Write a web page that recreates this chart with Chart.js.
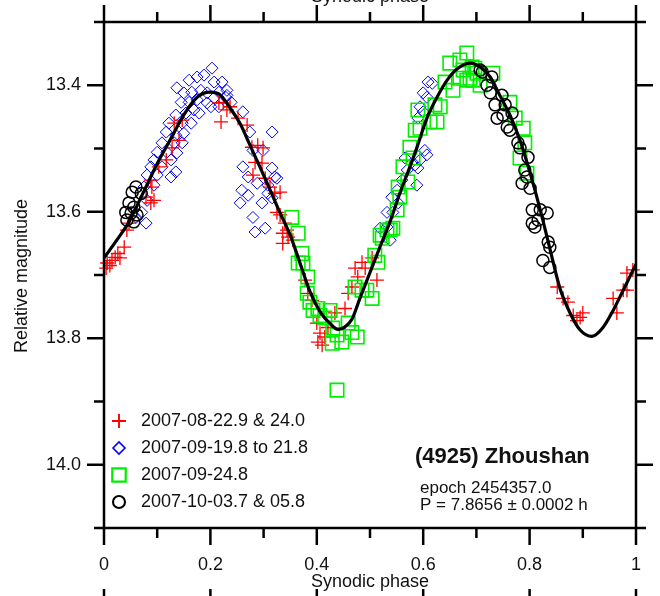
<!DOCTYPE html>
<html>
<head>
<meta charset="utf-8">
<style>
  html, body { margin: 0; padding: 0; background: #fff; }
  #chart { display: block; }
</style>
<script src="https://cdn.jsdelivr.net/npm/chart.js@4.4.0/dist/chart.umd.min.js"></script>
</head>
<body>
<canvas id="chart" width="660" height="596"></canvas>
<script>
// fitted lightcurve (phase, relative magnitude)
const curvePhase = [0, 0.024, 0.049, 0.073, 0.100, 0.124, 0.150, 0.175, 0.199, 0.218, 0.237, 0.256, 0.274, 0.293,
  0.312, 0.331, 0.350, 0.368, 0.387, 0.406, 0.425, 0.440, 0.453, 0.466, 0.481, 0.500, 0.519, 0.538, 0.556, 0.575,
  0.588, 0.607, 0.626, 0.645, 0.664, 0.688, 0.707, 0.726, 0.744, 0.763, 0.782, 0.801, 0.820, 0.838, 0.857, 0.876,
  0.895, 0.917, 0.938, 0.957, 0.976, 1.000];
const curveMag = [13.673, 13.645, 13.613, 13.571, 13.524, 13.487, 13.447, 13.419, 13.411, 13.415, 13.436, 13.461,
  13.494, 13.529, 13.565, 13.602, 13.637, 13.680, 13.726, 13.758, 13.777, 13.786, 13.782, 13.770, 13.737, 13.696,
  13.655, 13.615, 13.571, 13.529, 13.499, 13.452, 13.419, 13.392, 13.374, 13.365, 13.371, 13.387, 13.416, 13.447,
  13.487, 13.539, 13.597, 13.658, 13.721, 13.760, 13.787, 13.797, 13.783, 13.756, 13.724, 13.683];

// 2007-08-22.9 & 24.0
const augPoints = [
  [0.004, 13.689], [0.006, 13.681], [0.011, 13.685], [0.015, 13.677], [0.021, 13.672], [0.026, 13.666],
  [0.030, 13.673], [0.038, 13.656], [0.043, 13.629], [0.047, 13.618], [0.079, 13.577], [0.088, 13.586],
  [0.094, 13.582], [0.090, 13.561], [0.088, 13.550], [0.103, 13.529], [0.117, 13.518], [0.128, 13.499],
  [0.141, 13.487], [0.132, 13.460], [0.147, 13.455], [0.216, 13.428], [0.231, 13.439], [0.220, 13.458],
  [0.224, 13.428], [0.237, 13.434], [0.252, 13.452], [0.269, 13.463], [0.278, 13.498], [0.289, 13.495],
  [0.299, 13.499], [0.284, 13.522], [0.297, 13.523], [0.280, 13.542], [0.303, 13.547], [0.312, 13.561],
  [0.321, 13.571], [0.331, 13.569], [0.325, 13.601], [0.331, 13.605], [0.340, 13.618], [0.336, 13.634],
  [0.346, 13.640], [0.336, 13.650], [0.344, 13.629], [0.355, 13.645], [0.378, 13.708], [0.383, 13.729],
  [0.391, 13.740], [0.400, 13.776], [0.406, 13.792], [0.415, 13.798], [0.402, 13.806], [0.421, 13.783],
  [0.410, 13.811], [0.434, 13.760], [0.453, 13.753], [0.459, 13.729], [0.466, 13.719], [0.472, 13.689],
  [0.485, 13.680], [0.491, 13.689], [0.477, 13.703], [0.513, 13.708], [0.504, 13.673],
  [0.852, 13.719], [0.863, 13.737], [0.872, 13.743], [0.882, 13.764], [0.895, 13.767], [0.900, 13.760],
  [0.889, 13.772], [0.957, 13.737], [0.964, 13.760], [0.976, 13.724], [0.983, 13.724], [0.983, 13.697],
  [0.994, 13.692]
];

// 2007-09-19.8 to 21.8
const sepAPoints = [
  [0.203, 13.373], [0.188, 13.384], [0.175, 13.387], [0.160, 13.392], [0.222, 13.395], [0.207, 13.395],
  [0.137, 13.404], [0.150, 13.412], [0.165, 13.411], [0.182, 13.408], [0.194, 13.412], [0.231, 13.408],
  [0.216, 13.411], [0.229, 13.419], [0.145, 13.427], [0.160, 13.427], [0.175, 13.423], [0.194, 13.428],
  [0.207, 13.420], [0.201, 13.434], [0.216, 13.434], [0.239, 13.427], [0.135, 13.447], [0.154, 13.444],
  [0.169, 13.439], [0.179, 13.444], [0.122, 13.460], [0.147, 13.460], [0.164, 13.460], [0.117, 13.474],
  [0.135, 13.479], [0.150, 13.476], [0.109, 13.491], [0.132, 13.491], [0.147, 13.491], [0.100, 13.506],
  [0.118, 13.506], [0.137, 13.507], [0.094, 13.518], [0.126, 13.518], [0.088, 13.529], [0.109, 13.529],
  [0.135, 13.537], [0.081, 13.542], [0.100, 13.542], [0.126, 13.545], [0.075, 13.561], [0.094, 13.558],
  [0.081, 13.582], [0.079, 13.618], [0.060, 13.609], [0.071, 13.601],
  [0.231, 13.416], [0.261, 13.442], [0.274, 13.474], [0.316, 13.474], [0.280, 13.503], [0.299, 13.503],
  [0.261, 13.529], [0.271, 13.545], [0.288, 13.555], [0.316, 13.531], [0.321, 13.545], [0.308, 13.558],
  [0.259, 13.566], [0.271, 13.574], [0.308, 13.571], [0.316, 13.578], [0.256, 13.586], [0.297, 13.586],
  [0.280, 13.609], [0.284, 13.632], [0.303, 13.626], [0.325, 13.547],
  [0.609, 13.395], [0.617, 13.397], [0.600, 13.412], [0.607, 13.419], [0.594, 13.434], [0.600, 13.442],
  [0.590, 13.452], [0.603, 13.503], [0.607, 13.510], [0.594, 13.518], [0.585, 13.526], [0.590, 13.531],
  [0.566, 13.515], [0.570, 13.534], [0.588, 13.558], [0.560, 13.550], [0.551, 13.566], [0.541, 13.577],
  [0.553, 13.586], [0.532, 13.601], [0.543, 13.601], [0.532, 13.624], [0.538, 13.645], [0.519, 13.626]
];

// 2007-09-24.8
const sepBPoints = [
  [0.353, 13.609], [0.365, 13.634], [0.372, 13.666], [0.365, 13.681], [0.374, 13.681], [0.383, 13.703],
  [0.382, 13.729], [0.387, 13.743], [0.393, 13.756], [0.402, 13.753], [0.406, 13.764], [0.415, 13.768],
  [0.425, 13.756], [0.430, 13.784], [0.429, 13.808], [0.447, 13.806], [0.438, 13.795], [0.459, 13.776],
  [0.466, 13.791], [0.476, 13.798], [0.485, 13.724], [0.472, 13.719], [0.494, 13.724], [0.504, 13.737],
  [0.509, 13.669], [0.515, 13.680], [0.523, 13.642], [0.538, 13.629], [0.543, 13.626], [0.438, 13.882],
  [0.532, 13.629], [0.519, 13.637], [0.551, 13.597], [0.556, 13.577], [0.553, 13.561], [0.571, 13.553],
  [0.562, 13.529], [0.581, 13.515], [0.575, 13.498], [0.585, 13.471], [0.594, 13.468], [0.626, 13.458],
  [0.613, 13.458], [0.590, 13.439], [0.632, 13.434], [0.622, 13.431], [0.641, 13.395], [0.656, 13.408],
  [0.669, 13.389], [0.682, 13.392], [0.650, 13.365], [0.669, 13.360], [0.682, 13.349], [0.692, 13.371],
  [0.701, 13.381], [0.694, 13.392], [0.688, 13.389], [0.707, 13.400], [0.731, 13.381], [0.763, 13.427],
  [0.773, 13.452], [0.788, 13.468], [0.791, 13.491], [0.782, 13.515], [0.795, 13.539], [0.675, 13.376],
  [0.697, 13.373]
];

// 2007-10-03.7 & 05.8
const octPoints = [
  [0.060, 13.561], [0.053, 13.569], [0.070, 13.571], [0.047, 13.586], [0.056, 13.593], [0.041, 13.601],
  [0.051, 13.602], [0.062, 13.605], [0.043, 13.613], [0.056, 13.616],
  [0.729, 13.387], [0.726, 13.412], [0.748, 13.416], [0.735, 13.431], [0.754, 13.431], [0.739, 13.452],
  [0.750, 13.447], [0.767, 13.444], [0.758, 13.466], [0.763, 13.471], [0.778, 13.491], [0.782, 13.499],
  [0.797, 13.514], [0.791, 13.534], [0.795, 13.545], [0.786, 13.555], [0.801, 13.563], [0.805, 13.597],
  [0.820, 13.597], [0.833, 13.602], [0.805, 13.618], [0.816, 13.613], [0.810, 13.624], [0.835, 13.648],
  [0.838, 13.656], [0.825, 13.677], [0.838, 13.688], [0.720, 13.400], [0.707, 13.376], [0.711, 13.379]
];

const seriesLabels = ['2007-08-22.9 & 24.0', '2007-09-19.8 to 21.8', '2007-09-24.8', '2007-10-03.7 & 05.8'];

const xTicks = [0, 0.2, 0.4, 0.6, 0.8, 1];
const xTickLabels = ['0', '0.2', '0.4', '0.6', '0.8', '1'];
const xMinorTicks = [0.1, 0.3, 0.5, 0.7, 0.9];
const yTicks = [13.4, 13.6, 13.8, 14.0];
const yTickLabels = ['13.4', '13.6', '13.8', '14.0'];
const yMinorTicks = [13.5, 13.7, 13.9];

const objectName = '(4925) Zhoushan';
const infoLines = ['epoch 2454357.0', 'P = 7.8656 \u00b1 0.0002 h'];

const toXY = (pts) => pts.map(([x, y]) => ({ x, y }));

const markerStyles = [
  { pointStyle: 'cross', radius: 7, color: '#ff0000', borderWidth: 1.3 },
  { pointStyle: 'rectRot', radius: 6, color: '#0000ff', borderWidth: 1 },
  { pointStyle: 'rect', radius: 9.5, color: '#00ee00', borderWidth: 1.6 },
  { pointStyle: 'circle', radius: 6, color: '#000000', borderWidth: 1.5 },
];

const markerData = [augPoints, sepAPoints, sepBPoints, octPoints];
const markerOrder = [3, 4, 2, 1];

const TXT = '#111';
const FONT = 'Arial, "Liberation Sans", sans-serif';

const framePlugin = {
  id: 'frame',
  afterDraw(chart) {
    const { ctx, chartArea: a, scales: { x, y } } = chart;
    const major = 17;
    const minor = 10;
    ctx.save();
    ctx.strokeStyle = '#000';
    ctx.lineWidth = 2.5;
    ctx.lineCap = 'butt';

    const line = (x1, y1, x2, y2) => {
      ctx.beginPath();
      ctx.moveTo(x1, y1);
      ctx.lineTo(x2, y2);
      ctx.stroke();
    };

    // frame, with top/bottom edges running past the side axes
    line(a.left, a.top, a.left, a.bottom);
    line(a.right, a.top, a.right, a.bottom);
    line(a.left - minor, a.top, a.right + minor, a.top);
    line(a.left - minor, a.bottom, a.right + minor, a.bottom);

    xTicks.forEach((v) => {
      const px = x.getPixelForValue(v);
      line(px, a.top, px, a.top - major);
      line(px, a.bottom, px, a.bottom + major);
      // top ticks of the panel below
      line(px, 589, px, 600);
    });
    xMinorTicks.forEach((v) => {
      const px = x.getPixelForValue(v);
      line(px, a.top, px, a.top - minor);
      line(px, a.bottom, px, a.bottom + minor);
    });
    yTicks.forEach((v) => {
      const py = y.getPixelForValue(v);
      line(a.left, py, a.left - major, py);
      line(a.right, py, a.right + major, py);
    });
    yMinorTicks.forEach((v) => {
      const py = y.getPixelForValue(v);
      line(a.left, py, a.left - minor, py);
      line(a.right, py, a.right + minor, py);
    });
    ctx.restore();

    ctx.save();
    ctx.fillStyle = TXT;
    ctx.font = `18px ${FONT}`;
    ctx.textAlign = 'center';
    ctx.textBaseline = 'middle';
    xTicks.forEach((v, i) => {
      ctx.fillText(xTickLabels[i], x.getPixelForValue(v), 565);
    });
    ctx.fillText('Synodic phase', (a.left + a.right) / 2, 582);
    ctx.textBaseline = 'alphabetic';
    ctx.fillText('Synodic phase', (a.left + a.right) / 2, 2);

    ctx.textAlign = 'right';
    ctx.textBaseline = 'middle';
    yTicks.forEach((v, i) => {
      ctx.fillText(yTickLabels[i], a.left - major - 6, y.getPixelForValue(v));
    });

    ctx.save();
    ctx.translate(22, (a.top + a.bottom) / 2 + 1);
    ctx.rotate(-Math.PI / 2);
    ctx.textAlign = 'center';
    ctx.fillText('Relative magnitude', 0, 0);
    ctx.restore();

    // legend
    ctx.textAlign = 'left';
    seriesLabels.forEach((label, i) => {
      const ly = 421 + i * 27;
      const m = markerStyles[i];
      ctx.save();
      ctx.strokeStyle = m.color;
      ctx.fillStyle = 'rgba(0,0,0,0)';
      ctx.lineWidth = m.borderWidth + 0.6;
      Chart.helpers.drawPoint(ctx, { pointStyle: m.pointStyle, radius: m.radius, rotation: 0, borderWidth: m.borderWidth + 0.6 }, 119, ly);
      ctx.restore();
      ctx.fillStyle = TXT;
      ctx.fillText(label, 141, ly);
    });

    ctx.font = `bold 22px ${FONT}`;
    ctx.fillText(objectName, 415, 457);
    ctx.font = `17px ${FONT}`;
    ctx.fillText(infoLines[0], 420, 488);
    ctx.fillText(infoLines[1], 420, 505);
    ctx.restore();
  }
};

new Chart(document.getElementById('chart'), {
  type: 'scatter',
  data: {
    datasets: [
      {
        type: 'line',
        label: 'fit',
        data: curvePhase.map((p, i) => ({ x: p, y: curveMag[i] })),
        borderColor: '#000',
        borderWidth: 3.2,
        pointRadius: 0,
        fill: false,
        cubicInterpolationMode: 'monotone',
        order: 0,
      },
      ...markerData.map((pts, i) => ({
        label: seriesLabels[i],
        data: toXY(pts),
        pointStyle: markerStyles[i].pointStyle,
        pointRadius: markerStyles[i].radius,
        pointBorderColor: markerStyles[i].color,
        pointBackgroundColor: 'rgba(0,0,0,0)',
        pointBorderWidth: markerStyles[i].borderWidth,
        clip: false,
        order: markerOrder[i],
      })),
    ],
  },
  options: {
    responsive: false,
    animation: false,
    devicePixelRatio: 1,
    layout: { padding: { left: 104, top: 22, right: 24, bottom: 68 } },
    plugins: { legend: { display: false }, tooltip: { enabled: false } },
    scales: {
      x: { type: 'linear', min: 0, max: 1, display: false },
      y: { type: 'linear', min: 13.3, max: 14.1, reverse: true, display: false },
    },
  },
  plugins: [framePlugin],
});
</script>
</body>
</html>
